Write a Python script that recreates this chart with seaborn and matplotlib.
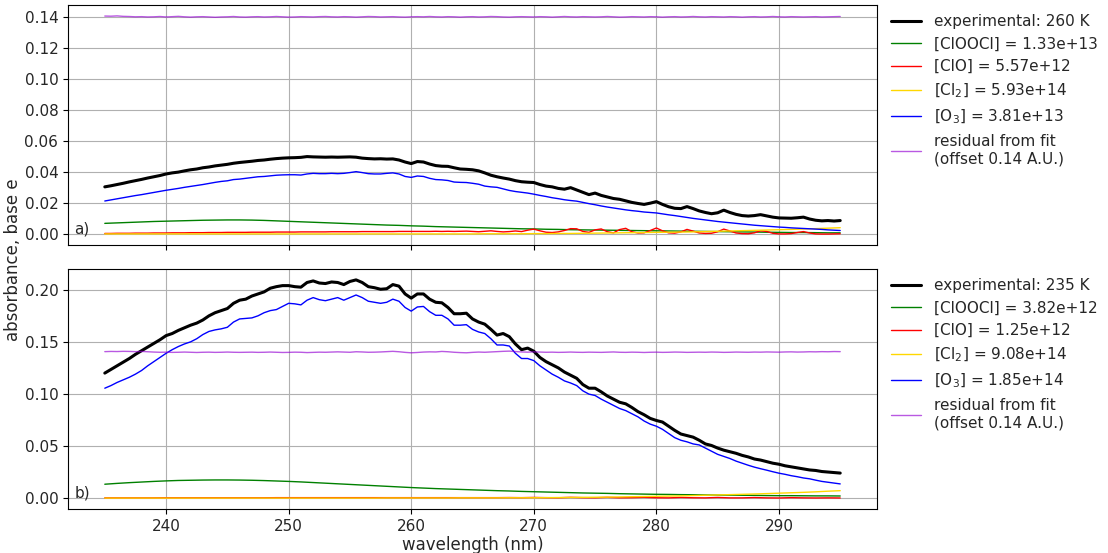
import numpy as np
import matplotlib
matplotlib.use("Agg")
import matplotlib.pyplot as plt
import seaborn as sns

# ---------------- data (absorbance, base e) ----------------
# panel a) 260 K, sampled every 0.5 nm from 235 to 295 nm
exp_a = [0.0305, 0.0312, 0.0320, 0.0328, 0.0337, 0.0345, 0.0353, 0.0362, 0.0370, 0.0378,
         0.0388, 0.0395, 0.0400, 0.0408, 0.0415, 0.0420, 0.0428, 0.0433, 0.0440, 0.0445,
         0.0450, 0.0457, 0.0462, 0.0466, 0.0470, 0.0475, 0.0478, 0.0483, 0.0487, 0.0490,
         0.0492, 0.0493, 0.0495, 0.0500, 0.0498, 0.0497, 0.0496, 0.0497, 0.0496, 0.0497,
         0.0498, 0.0496, 0.0490, 0.0487, 0.0485, 0.0486, 0.0484, 0.0485, 0.0478, 0.0465,
         0.0455, 0.0468, 0.0465, 0.0452, 0.0442, 0.0438, 0.0437, 0.0428, 0.0420, 0.0418,
         0.0415, 0.0408, 0.0395, 0.0380, 0.0370, 0.0362, 0.0355, 0.0345, 0.0338, 0.0335,
         0.0333, 0.0320, 0.0310, 0.0305, 0.0295, 0.0290, 0.0300, 0.0285, 0.0270, 0.0255,
         0.0265, 0.0250, 0.0240, 0.0230, 0.0225, 0.0215, 0.0205, 0.0198, 0.0192, 0.0200,
         0.0210, 0.0192, 0.0177, 0.0167, 0.0165, 0.0178, 0.0165, 0.0150, 0.0140, 0.0132,
         0.0138, 0.0155, 0.0140, 0.0128, 0.0120, 0.0117, 0.0120, 0.0126, 0.0118, 0.0110,
         0.0105, 0.0104, 0.0103, 0.0106, 0.0110, 0.0098, 0.0090, 0.0086, 0.0088, 0.0085,
         0.0088]
o3_a = [0.0214, 0.0221, 0.0228, 0.0235, 0.0242, 0.0249, 0.0255, 0.0262, 0.0269, 0.0276,
        0.0283, 0.0289, 0.0295, 0.0302, 0.0308, 0.0314, 0.0320, 0.0327, 0.0334, 0.0340,
        0.0344, 0.0352, 0.0355, 0.0360, 0.0365, 0.0370, 0.0372, 0.0376, 0.0380, 0.0382,
        0.0383, 0.0383, 0.0381, 0.0388, 0.0392, 0.0390, 0.0390, 0.0392, 0.0390, 0.0392,
        0.0397, 0.0403, 0.0397, 0.0390, 0.0388, 0.0388, 0.0392, 0.0395, 0.0388, 0.0372,
        0.0366, 0.0375, 0.0372, 0.0360, 0.0352, 0.0350, 0.0346, 0.0336, 0.0334, 0.0333,
        0.0328, 0.0322, 0.0310, 0.0305, 0.0302, 0.0292, 0.0282, 0.0275, 0.0270, 0.0265,
        0.0258, 0.0250, 0.0243, 0.0235, 0.0229, 0.0222, 0.0217, 0.0213, 0.0205, 0.0197,
        0.0190, 0.0182, 0.0175, 0.0169, 0.0163, 0.0157, 0.0152, 0.0148, 0.0143, 0.0140,
        0.0137, 0.0131, 0.0125, 0.0120, 0.0114, 0.0108, 0.0102, 0.0097, 0.0092, 0.0087,
        0.0082, 0.0078, 0.0074, 0.0070, 0.0066, 0.0062, 0.0058, 0.0055, 0.0052, 0.0049,
        0.0046, 0.0044, 0.0041, 0.0039, 0.0037, 0.0035, 0.0033, 0.0031, 0.0028, 0.0026,
        0.0024]
clo_a = [0.0005, 0.0005, 0.0006, 0.0006, 0.0006, 0.0007, 0.0007, 0.0007, 0.0008, 0.0008,
         0.0008, 0.0009, 0.0009, 0.0009, 0.0010, 0.0010, 0.0010, 0.0011, 0.0011, 0.0011,
         0.0012, 0.0012, 0.0012, 0.0012, 0.0013, 0.0013, 0.0013, 0.0013, 0.0014, 0.0014,
         0.0014, 0.0014, 0.0015, 0.0015, 0.0015, 0.0015, 0.0015, 0.0016, 0.0016, 0.0016,
         0.0016, 0.0016, 0.0017, 0.0017, 0.0017, 0.0017, 0.0017, 0.0017, 0.0018, 0.0018,
         0.0018, 0.0018, 0.0018, 0.0018, 0.0019, 0.0018, 0.0019, 0.0018, 0.0019, 0.0020,
         0.0018, 0.0016, 0.0019, 0.0022, 0.0018, 0.0015, 0.0017, 0.0021, 0.0017, 0.0026,
         0.0033, 0.0022, 0.0013, 0.0011, 0.0015, 0.0024, 0.0036, 0.0035, 0.0018, 0.0012,
         0.0028, 0.0034, 0.0016, 0.0009, 0.0030, 0.0038, 0.0016, 0.0008, 0.0009, 0.0024,
         0.0040, 0.0022, 0.0009, 0.0007, 0.0015, 0.0031, 0.0020, 0.0008, 0.0005, 0.0006,
         0.0016, 0.0033, 0.0021, 0.0008, 0.0004, 0.0003, 0.0009, 0.0022, 0.0018, 0.0006,
         0.0002, 0.0002, 0.0004, 0.0011, 0.0017, 0.0008, 0.0002, 0.0001, 0.0001, 0.0002,
         0.0003]
resid_a = [0.1405, 0.1404, 0.1406, 0.1403, 0.1402, 0.1400, 0.1401, 0.1399, 0.1400, 0.1402,
           0.1399, 0.1401, 0.1403, 0.1400, 0.1398, 0.1400, 0.1401, 0.1399, 0.1397, 0.1399,
           0.1400, 0.1402, 0.1399, 0.1398, 0.1400, 0.1401, 0.1399, 0.1400, 0.1402, 0.1400,
           0.1398, 0.1399, 0.1401, 0.1400, 0.1399, 0.1401, 0.1402, 0.1400, 0.1399, 0.1401,
           0.1400, 0.1398, 0.1400, 0.1402, 0.1401, 0.1399, 0.1400, 0.1401, 0.1399, 0.1398,
           0.1400, 0.1401, 0.1400, 0.1402, 0.1400, 0.1399, 0.1401, 0.1400, 0.1398, 0.1400,
           0.1401, 0.1399, 0.1400, 0.1402, 0.1401, 0.1399, 0.1398, 0.1400, 0.1401, 0.1400,
           0.1399, 0.1401, 0.1400, 0.1398, 0.1400, 0.1402, 0.1400, 0.1399, 0.1401, 0.1400,
           0.1399, 0.1400, 0.1402, 0.1400, 0.1398, 0.1399, 0.1401, 0.1400, 0.1399, 0.1401,
           0.1400, 0.1398, 0.1400, 0.1401, 0.1399, 0.1400, 0.1402, 0.1400, 0.1399, 0.1401,
           0.1400, 0.1399, 0.1401, 0.1400, 0.1398, 0.1400, 0.1401, 0.1399, 0.1400, 0.1402,
           0.1400, 0.1399, 0.1401, 0.1400, 0.1399, 0.1400, 0.1401, 0.1399, 0.1400, 0.1401,
           0.1402]
# smooth components, every 1 nm
cloocl_a = [0.0070, 0.0073, 0.0076, 0.0079, 0.0082, 0.0084, 0.0086, 0.0088, 0.0090, 0.0091,
            0.0092, 0.0092, 0.0091, 0.0089, 0.0086, 0.0083, 0.0080, 0.0077, 0.0074, 0.0071,
            0.0068, 0.0065, 0.0062, 0.0059, 0.0057, 0.0054, 0.0052, 0.0049, 0.0047, 0.0045,
            0.0043, 0.0041, 0.0039, 0.0037, 0.0035, 0.0034, 0.0032, 0.0031, 0.0029, 0.0028,
            0.0027, 0.0026, 0.0025, 0.0024, 0.0023, 0.0022, 0.0021, 0.0020, 0.0019, 0.0018,
            0.0017, 0.0016, 0.0015, 0.0014, 0.0013, 0.0012, 0.0011, 0.0011, 0.0010, 0.0009,
            0.0009]
cl2_a = [0.0002, 0.0002, 0.0002, 0.0002, 0.0002, 0.0002, 0.0002, 0.0002, 0.0002, 0.0002,
         0.0002, 0.0002, 0.0002, 0.0002, 0.0002, 0.0002, 0.0002, 0.0002, 0.0002, 0.0002,
         0.0002, 0.0002, 0.0002, 0.0002, 0.0002, 0.0002, 0.0002, 0.0002, 0.0002, 0.0002,
         0.0002, 0.0003, 0.0003, 0.0003, 0.0003, 0.0004, 0.0004, 0.0005, 0.0005, 0.0006,
         0.0007, 0.0008, 0.0009, 0.0010, 0.0011, 0.0012, 0.0013, 0.0014, 0.0015, 0.0017,
         0.0019, 0.0021, 0.0023, 0.0025, 0.0027, 0.0029, 0.0031, 0.0034, 0.0036, 0.0039,
         0.0042]

# panel b) 235 K
exp_b = [0.1200, 0.1235, 0.1270, 0.1305, 0.1340, 0.1380, 0.1415, 0.1450, 0.1485, 0.1520,
         0.1560, 0.1580, 0.1610, 0.1635, 0.1660, 0.1680, 0.1710, 0.1750, 0.1780, 0.1800,
         0.1820, 0.1870, 0.1900, 0.1910, 0.1940, 0.1960, 0.1980, 0.2015, 0.2030, 0.2040,
         0.2040, 0.2030, 0.2025, 0.2070, 0.2085, 0.2065, 0.2060, 0.2075, 0.2070, 0.2050,
         0.2080, 0.2095, 0.2070, 0.2030, 0.2020, 0.2005, 0.2010, 0.2050, 0.2035, 0.1960,
         0.1920, 0.1960, 0.1960, 0.1910, 0.1880, 0.1875, 0.1830, 0.1770, 0.1770, 0.1775,
         0.1720, 0.1690, 0.1670, 0.1620, 0.1565, 0.1580, 0.1550, 0.1480, 0.1425, 0.1440,
         0.1410, 0.1350, 0.1310, 0.1280, 0.1250, 0.1210, 0.1180, 0.1150, 0.1090, 0.1055,
         0.1055, 0.1020, 0.0980, 0.0950, 0.0920, 0.0905, 0.0870, 0.0830, 0.0800, 0.0765,
         0.0745, 0.0730, 0.0690, 0.0650, 0.0615, 0.0600, 0.0585, 0.0555, 0.0520, 0.0505,
         0.0480, 0.0460, 0.0445, 0.0430, 0.0410, 0.0395, 0.0375, 0.0365, 0.0350, 0.0335,
         0.0325, 0.0310, 0.0300, 0.0290, 0.0280, 0.0270, 0.0265, 0.0255, 0.0250, 0.0245,
         0.0240]
o3_b = [0.1055, 0.1080, 0.1110, 0.1135, 0.1160, 0.1190, 0.1225, 0.1270, 0.1310, 0.1350,
        0.1390, 0.1425, 0.1455, 0.1480, 0.1500, 0.1530, 0.1570, 0.1600, 0.1615, 0.1625,
        0.1640, 0.1690, 0.1720, 0.1725, 0.1730, 0.1750, 0.1780, 0.1800, 0.1810, 0.1840,
        0.1870, 0.1865, 0.1855, 0.1900, 0.1925, 0.1905, 0.1895, 0.1910, 0.1925, 0.1900,
        0.1925, 0.1950, 0.1925, 0.1890, 0.1880, 0.1870, 0.1880, 0.1910, 0.1890, 0.1830,
        0.1795, 0.1835, 0.1840, 0.1790, 0.1755, 0.1755, 0.1720, 0.1660, 0.1660, 0.1665,
        0.1620, 0.1595, 0.1580, 0.1530, 0.1470, 0.1470, 0.1460, 0.1390, 0.1340, 0.1340,
        0.1320, 0.1270, 0.1230, 0.1190, 0.1160, 0.1125, 0.1105, 0.1080, 0.1030, 0.0998,
        0.0985, 0.0950, 0.0920, 0.0890, 0.0860, 0.0840, 0.0810, 0.0780, 0.0740, 0.0710,
        0.0690, 0.0660, 0.0620, 0.0580, 0.0555, 0.0540, 0.0520, 0.0510, 0.0480, 0.0450,
        0.0420, 0.0400, 0.0380, 0.0355, 0.0335, 0.0315, 0.0297, 0.0282, 0.0268, 0.0253,
        0.0239, 0.0228, 0.0215, 0.0205, 0.0193, 0.0185, 0.0172, 0.0160, 0.0152, 0.0144,
        0.0136]
resid_b = [0.1406, 0.1408, 0.1407, 0.1409, 0.1408, 0.1406, 0.1408, 0.1405, 0.1402, 0.1400,
           0.1401, 0.1399, 0.1400, 0.1402, 0.1400, 0.1398, 0.1400, 0.1401, 0.1399, 0.1400,
           0.1402, 0.1400, 0.1399, 0.1400, 0.1401, 0.1399, 0.1400, 0.1402, 0.1400, 0.1398,
           0.1399, 0.1401, 0.1400, 0.1397, 0.1399, 0.1401, 0.1400, 0.1402, 0.1404, 0.1402,
           0.1400, 0.1405, 0.1403, 0.1400, 0.1401, 0.1403, 0.1406, 0.1409, 0.1405, 0.1399,
           0.1395, 0.1398, 0.1402, 0.1404, 0.1403, 0.1408, 0.1405, 0.1400, 0.1397, 0.1395,
           0.1399, 0.1402, 0.1400, 0.1403, 0.1406, 0.1409, 0.1411, 0.1407, 0.1403, 0.1401,
           0.1404, 0.1402, 0.1400, 0.1401, 0.1399, 0.1400, 0.1402, 0.1400, 0.1399, 0.1401,
           0.1400, 0.1399, 0.1401, 0.1403, 0.1400, 0.1399, 0.1401, 0.1400, 0.1398, 0.1400,
           0.1401, 0.1399, 0.1400, 0.1402, 0.1401, 0.1399, 0.1400, 0.1401, 0.1400, 0.1402,
           0.1401, 0.1399, 0.1400, 0.1402, 0.1401, 0.1400, 0.1402, 0.1401, 0.1403, 0.1402,
           0.1401, 0.1403, 0.1404, 0.1402, 0.1403, 0.1405, 0.1404, 0.1406, 0.1405, 0.1407,
           0.1406]
cloocl_b = [0.0133, 0.0141, 0.0148, 0.0154, 0.0160, 0.0165, 0.0169, 0.0171, 0.0173, 0.0174,
            0.0174, 0.0173, 0.0171, 0.0168, 0.0164, 0.0160, 0.0155, 0.0149, 0.0143, 0.0137,
            0.0131, 0.0125, 0.0119, 0.0113, 0.0107, 0.0101, 0.0096, 0.0091, 0.0087, 0.0083,
            0.0079, 0.0075, 0.0071, 0.0068, 0.0064, 0.0061, 0.0058, 0.0055, 0.0052, 0.0049,
            0.0047, 0.0045, 0.0042, 0.0040, 0.0038, 0.0036, 0.0035, 0.0033, 0.0032, 0.0030,
            0.0029, 0.0028, 0.0027, 0.0026, 0.0024, 0.0023, 0.0023, 0.0022, 0.0021, 0.0021,
            0.0020]
clo_b = [0.0002, 0.0002, 0.0002, 0.0002, 0.0002, 0.0003, 0.0003, 0.0003, 0.0003, 0.0003,
         0.0003, 0.0003, 0.0003, 0.0003, 0.0004, 0.0004, 0.0004, 0.0004, 0.0004, 0.0004,
         0.0004, 0.0004, 0.0004, 0.0004, 0.0004, 0.0004, 0.0004, 0.0004, 0.0004, 0.0004,
         0.0004, 0.0004, 0.0004, 0.0005, 0.0004, 0.0006, 0.0004, 0.0003, 0.0007, 0.0004,
         0.0003, 0.0007, 0.0003, 0.0004, 0.0007, 0.0003, 0.0002, 0.0006, 0.0003, 0.0002,
         0.0006, 0.0002, 0.0002, 0.0005, 0.0002, 0.0001, 0.0004, 0.0002, 0.0001, 0.0002,
         0.0001]
cl2_b = [0.0000, 0.0000, 0.0000, 0.0000, 0.0000, 0.0000, 0.0000, 0.0000, 0.0000, 0.0000,
         0.0000, 0.0000, 0.0000, 0.0000, 0.0000, 0.0000, 0.0000, 0.0000, 0.0000, 0.0000,
         0.0000, 0.0000, 0.0000, 0.0001, 0.0001, 0.0001, 0.0001, 0.0001, 0.0001, 0.0002,
         0.0002, 0.0002, 0.0002, 0.0003, 0.0003, 0.0003, 0.0004, 0.0005, 0.0006, 0.0007,
         0.0008, 0.0009, 0.0011, 0.0013, 0.0015, 0.0017, 0.0019, 0.0021, 0.0024, 0.0027,
         0.0030, 0.0033, 0.0036, 0.0039, 0.0043, 0.0047, 0.0051, 0.0055, 0.0060, 0.0066,
         0.0071]

labels_a = ["experimental: 260 K", "[ClOOCl] = 1.33e+13", "[ClO] = 5.57e+12",
            "[Cl$_2$] = 5.93e+14", "[O$_3$] = 3.81e+13",
            "residual from fit\n(offset 0.14 A.U.)"]
labels_b = ["experimental: 235 K", "[ClOOCl] = 3.82e+12", "[ClO] = 1.25e+12",
            "[Cl$_2$] = 9.08e+14", "[O$_3$] = 1.85e+14",
            "residual from fit\n(offset 0.14 A.U.)"]

colors = ["black", "green", "red", "gold", "blue", "darkviolet"]
widths = [2.2, 1, 1, 1, 1, 1]
alphas = [1, 1, 1, 1, 1, 0.65]

sns.set_style("ticks")
plt.rcParams["font.family"] = ["DejaVu Sans"]
plt.rcParams["font.size"] = 11

fig, (ax1, ax2) = plt.subplots(2, 1, sharex=True, figsize=(11.08, 5.53), dpi=100)
fig.subplots_adjust(left=0.0614, right=0.7915, top=0.991, bottom=0.0796, hspace=0.1)

panels = [
    (ax1, [exp_a, cloocl_a, clo_a, cl2_a, o3_a, resid_a], labels_a, "a)"),
    (ax2, [exp_b, cloocl_b, clo_b, cl2_b, o3_b, resid_b], labels_b, "b)"),
]

for ax, series, labels, tag in panels:
    for vals, lab, c, w, a in zip(series, labels, colors, widths, alphas):
        wl = np.linspace(235, 295, len(vals))
        sns.lineplot(x=wl, y=vals, ax=ax, color=c, lw=w, alpha=a, label=lab,
                     estimator=None)
    ax.grid(True, color="#b0b0b0", lw=0.8)
    for sp in ax.spines.values():
        sp.set_color("black")
        sp.set_linewidth(0.8)
    ax.tick_params(labelsize=11, length=3.5, width=0.8, color="black")
    ax.legend(loc="upper left", bbox_to_anchor=(1.0, 1.02), frameon=False,
              fontsize=11, handlelength=2.0, borderaxespad=0.5)
    ax.text(0.008, 0.035, tag, transform=ax.transAxes, fontsize=11,
            ha="left", va="bottom")

ax1.set_yticks([0.00, 0.02, 0.04, 0.06, 0.08, 0.10, 0.12, 0.14])
ax2.set_yticks([0.00, 0.05, 0.10, 0.15, 0.20])
ax1.yaxis.set_major_formatter(matplotlib.ticker.FormatStrFormatter("%.2f"))
ax2.yaxis.set_major_formatter(matplotlib.ticker.FormatStrFormatter("%.2f"))
ax2.set_xticks([240, 250, 260, 270, 280, 290])
ax2.set_xlabel("wavelength (nm)", fontsize=12, labelpad=2)
fig.text(0.0115, 0.53, "absorbance, base e", rotation=90, fontsize=12,
         ha="center", va="center")

fig.savefig("out.png", dpi=100)
